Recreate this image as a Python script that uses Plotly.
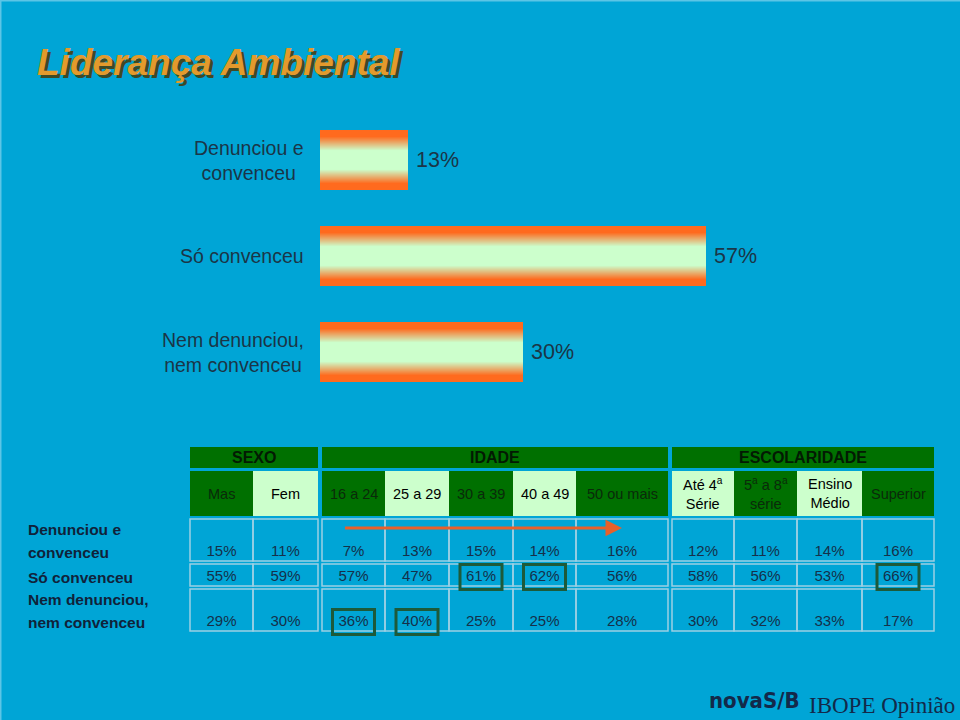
import plotly.graph_objects as go

# ---------------- data ----------------
bar_categories = ["Denunciou e<br>convenceu", "Só convenceu", "Nem denunciou,<br>nem convenceu"]
bar_values = [13, 57, 30]

group_names = ["SEXO", "IDADE", "ESCOLARIDADE"]
group_columns = [
    ["Mas", "Fem"],
    ["16 a 24", "25 a 29", "30 a 39", "40 a 49", "50 ou mais"],
    ["Até 4<sup>a</sup><br>Série", "5<sup>a</sup> a 8<sup>a</sup><br>série", "Ensino<br>Médio", "Superior"],
]
row_labels = ["Denunciou e<br>convenceu", "Só convenceu", "Nem denunciou,<br>nem convenceu"]
row_denunciou = [15, 11, 7, 13, 15, 14, 16, 12, 11, 14, 16]
row_so_convenceu = [55, 59, 57, 47, 61, 62, 56, 58, 56, 53, 66]
row_nem = [29, 30, 36, 40, 25, 25, 28, 30, 32, 33, 17]
table_rows = [row_denunciou, row_so_convenceu, row_nem]
highlighted = [(1, 4), (1, 5), (1, 10), (2, 2), (2, 3)]   # (row, column) boxed cells
trend_from_col, trend_to_col = 2, 6                          # arrow over IDADE columns

# ---------------- styles ----------------
BG = "#00A5D6"
DARK_GREEN = "#007000"
LIGHT_GREEN = "#CCFFCC"
ORANGE = (255, 106, 30)
PALE = (204, 255, 204)
TEXT_DARK = "#1B3547"
NAVY = "#10223A"
CELL_LINE = "#9CCFE3"
BOX_GREEN = "#1D5A3A"
ARROW = "#E8602A"
FONT = "Liberation Sans, Arial, sans-serif"

col_widths = [[63, 65], [63, 64, 64, 63, 92], [62, 63, 65, 72]]
header_dark = [[1, 0], [1, 0, 1, 0, 1], [0, 1, 0, 1]]
table_x0 = 190
group_gap = 4
y_group = (447, 468)
y_head = (471, 516)
y_rows = [(519, 561), (564, 586), (589, 631)]

W, H = 960, 720
px_per_pct = 6.78
bar_x0 = 320
bar_half_px = 30
cat_px = 96
bar_top_px = 112

fig = go.Figure()

# ---------------- gradient bars (overlay layers) ----------------
n_layers = 30
for k in range(n_layers):
    d = bar_half_px * (1 - k / n_layers)
    t = min(1.0, max(0.0, (d - 10) / 14))
    col = tuple(int(PALE[i] + (ORANGE[i] - PALE[i]) * t) for i in range(3))
    fig.add_trace(go.Bar(
        x=bar_values, y=bar_categories, orientation="h",
        width=2 * d / cat_px,
        marker=dict(color="rgb(%d,%d,%d)" % col, line=dict(width=0)),
        hoverinfo="skip", showlegend=False,
        xaxis="x", yaxis="y",
    ))

annotations = []
shapes = []

for cat, v in zip(bar_categories, bar_values):
    annotations.append(dict(
        xref="x", yref="y", x=0, y=cat, xanchor="right", yanchor="middle",
        xshift=-14, align="center", showarrow=False, text=cat,
        font=dict(size=19.5, color=TEXT_DARK, family=FONT),
    ))
    annotations.append(dict(
        xref="x", yref="y", x=v, y=cat, xanchor="left", yanchor="middle",
        xshift=6, showarrow=False, text=f"{v}%",
        font=dict(size=21.5, color=TEXT_DARK, family=FONT),
    ))

# ---------------- title ----------------
title = "<b><i>Liderança Ambiental</i></b>"
annotations.append(dict(xref="paper", yref="paper", x=35 / W, y=1 - 62 / H,
                        xanchor="left", yanchor="middle", xshift=3, yshift=-3,
                        showarrow=False, text=title,
                        font=dict(size=37, color="#3D4A26", family=FONT)))
annotations.append(dict(xref="paper", yref="paper", x=35 / W, y=1 - 62 / H,
                        xanchor="left", yanchor="middle",
                        showarrow=False, text=title,
                        font=dict(size=37, color="#E39A2C", family=FONT)))

# ---------------- table geometry ----------------
col_edges = []
group_edges = []
x = table_x0
for g, widths in enumerate(col_widths):
    gx0 = x
    for w in widths:
        col_edges.append((x, x + w))
        x += w
    group_edges.append((gx0, x))
    x += group_gap

col_centers = [(a + b) / 2 for a, b in col_edges]

# group headers
for g, name in enumerate(group_names):
    gx0, gx1 = group_edges[g]
    shapes.append(dict(type="rect", xref="x2", yref="y2", x0=gx0, x1=gx1,
                       y0=y_group[0], y1=y_group[1], fillcolor=DARK_GREEN,
                       line=dict(width=0), layer="below"))
    annotations.append(dict(xref="x2", yref="y2", x=(gx0 + gx1) / 2,
                            y=sum(y_group) / 2, showarrow=False,
                            text=f"<b>{name}</b>",
                            font=dict(size=16, color="#031A03", family=FONT)))

# column headers
ci = 0
for g, cols in enumerate(group_columns):
    for j, label in enumerate(cols):
        x0, x1 = col_edges[ci]
        dark = header_dark[g][j]
        shapes.append(dict(type="rect", xref="x2", yref="y2", x0=x0, x1=x1,
                           y0=y_head[0], y1=y_head[1],
                           fillcolor=DARK_GREEN if dark else LIGHT_GREEN,
                           line=dict(width=0), layer="below"))
        annotations.append(dict(xref="x2", yref="y2", x=(x0 + x1) / 2,
                                y=sum(y_head) / 2, showarrow=False,
                                text=label, align="center",
                                font=dict(size=14.5,
                                          color="#0A2A0A" if dark else "#000000",
                                          family=FONT)))
        ci += 1

# data cells
for r, (ry0, ry1) in enumerate(y_rows):
    for (x0, x1) in col_edges:
        shapes.append(dict(type="rect", xref="x2", yref="y2", x0=x0, x1=x1,
                           y0=ry0, y1=ry1, line=dict(color=CELL_LINE, width=1.5),
                           fillcolor="rgba(0,0,0,0)", layer="below"))

text_y = [ry1 - 9 for (ry0, ry1) in y_rows]

tx, ty, tt = [], [], []
for r, vals in enumerate(table_rows):
    for c, v in enumerate(vals):
        tx.append(col_centers[c])
        ty.append(text_y[r])
        tt.append(f"{v}%")
fig.add_trace(go.Scatter(x=tx, y=ty, text=tt, mode="text",
                         textposition="middle center",
                         textfont=dict(size=15, color="#15304A", family=FONT),
                         hoverinfo="skip", showlegend=False,
                         xaxis="x2", yaxis="y2", cliponaxis=False))

# row labels (last line aligned with the values)
for r, label in enumerate(row_labels):
    lines = label.split("<br>")
    for i, line in enumerate(lines):
        annotations.append(dict(xref="x2", yref="y2", x=26,
                                y=text_y[r] - 22.5 * (len(lines) - 1 - i),
                                xanchor="left", yanchor="middle", showarrow=False,
                                text=f"<b>{line}</b>",
                                font=dict(size=15.5, color=NAVY, family=FONT)))

# highlight boxes
for r, c in highlighted:
    shapes.append(dict(type="rect", xref="x2", yref="y2",
                       x0=col_centers[c] - 21, x1=col_centers[c] + 21,
                       y0=text_y[r] - 12.5, y1=text_y[r] + 12.5,
                       line=dict(color=BOX_GREEN, width=3),
                       fillcolor="rgba(0,0,0,0)"))

# trend arrow
arrow_y = y_rows[0][0] + 9
annotations.append(dict(xref="x2", yref="y2", axref="x2", ayref="y2",
                        x=col_centers[trend_to_col], y=arrow_y,
                        ax=col_centers[trend_from_col] - 10, ay=arrow_y,
                        text="", showarrow=True, arrowhead=2, arrowsize=1.1,
                        arrowwidth=3, arrowcolor=ARROW))

# logo
annotations.append(dict(xref="paper", yref="paper", x=802 / W, y=1 - 700 / H,
                        xanchor="right", yanchor="middle", showarrow=False,
                        text="<b>novaS/B</b>",
                        font=dict(size=22, color="#13294A",
                                  family="Liberation Sans Narrow, DejaVu Sans Condensed, sans-serif")))
annotations.append(dict(xref="paper", yref="paper", x=807 / W, y=1 - 705 / H,
                        xanchor="left", yanchor="middle", showarrow=False,
                        text="IBOPE Opinião",
                        font=dict(size=23, color="#13294A",
                                  family="Liberation Serif, Times New Roman, serif")))

# slide edge highlight
shapes.append(dict(type="line", xref="paper", yref="paper", x0=0, x1=0, y0=0, y1=1,
                   line=dict(color="#5CC5E6", width=3)))
shapes.append(dict(type="line", xref="paper", yref="paper", x0=0, x1=1, y0=1, y1=1,
                   line=dict(color="#5CC5E6", width=3)))

fig.update_layout(
    width=W, height=H, margin=dict(l=0, r=0, t=0, b=0),
    paper_bgcolor=BG, plot_bgcolor="rgba(0,0,0,0)",
    barmode="overlay", bargap=0,
    xaxis=dict(domain=[bar_x0 / W, 1], range=[0, (W - bar_x0) / px_per_pct],
               visible=False, fixedrange=True),
    yaxis=dict(domain=[1 - (bar_top_px + 3 * cat_px) / H, 1 - bar_top_px / H],
               type="category", categoryorder="array", categoryarray=bar_categories,
               range=[2.5, -0.5], visible=False, fixedrange=True),
    xaxis2=dict(domain=[0, 1], range=[0, W], visible=False, anchor="y2", fixedrange=True),
    yaxis2=dict(domain=[0, 1], range=[H, 0], visible=False, anchor="x2", fixedrange=True),
    annotations=annotations, shapes=shapes,
    font=dict(family=FONT),
)

fig.write_html("out.html")
